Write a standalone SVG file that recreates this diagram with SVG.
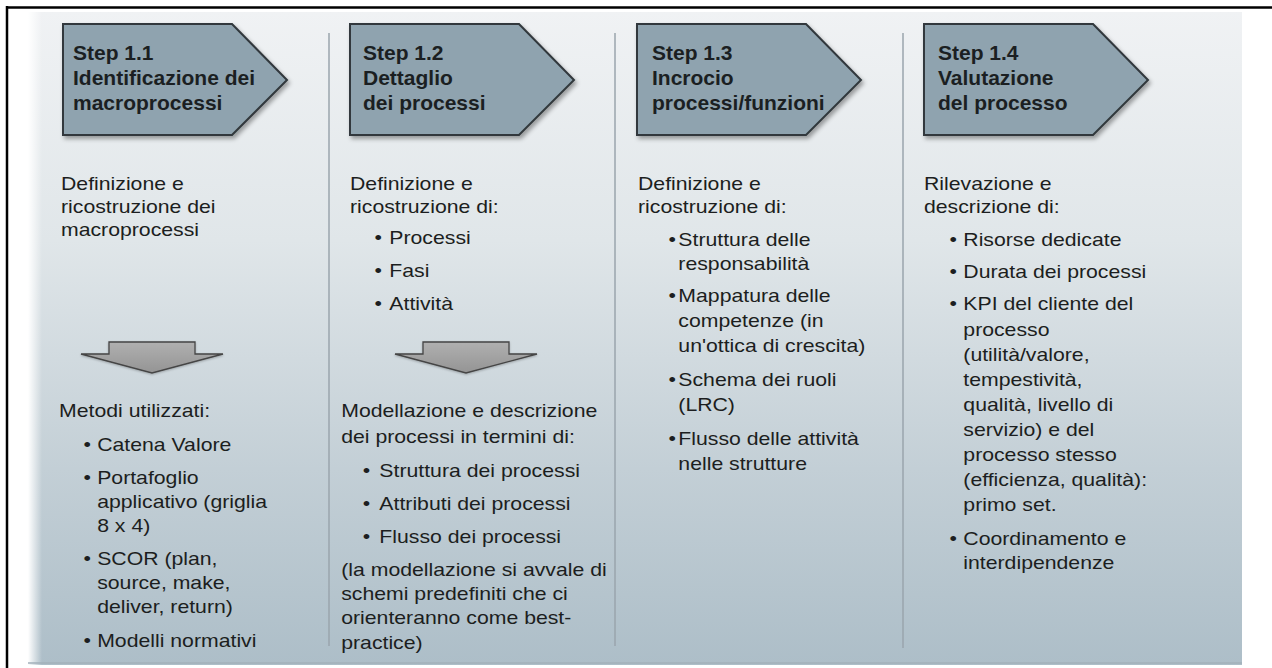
<svg xmlns="http://www.w3.org/2000/svg" width="1272" height="668" viewBox="0 0 1272 668">
<defs>
<linearGradient id="panel" x1="0" y1="0" x2="0" y2="1">
<stop offset="0" stop-color="#f0f2f4"/>
<stop offset="0.35" stop-color="#e0e6e9"/>
<stop offset="0.7" stop-color="#c3cfd6"/>
<stop offset="1" stop-color="#adbec8"/>
</linearGradient>
<linearGradient id="leftfade" x1="0" y1="0" x2="1" y2="0">
<stop offset="0" stop-color="#ffffff" stop-opacity="1"/>
<stop offset="1" stop-color="#ffffff" stop-opacity="0"/>
</linearGradient>
<linearGradient id="down" x1="0" y1="0" x2="0" y2="1">
<stop offset="0" stop-color="#b0b0b0"/>
<stop offset="1" stop-color="#949494"/>
</linearGradient>
<filter id="sh" x="-10%" y="-10%" width="130%" height="140%">
<feDropShadow dx="2" dy="3" stdDeviation="2" flood-color="#000" flood-opacity="0.35"/>
</filter>
<filter id="sh2" x="-10%" y="-20%" width="130%" height="160%">
<feDropShadow dx="0" dy="1" stdDeviation="1.2" flood-color="#000" flood-opacity="0.25"/>
</filter>
</defs>
<style>
.hdr{fill:#8fa3af;stroke:#30373c;stroke-width:2;stroke-linejoin:miter}
.ht{font-family:"Liberation Sans",Arial,sans-serif;font-weight:bold;font-size:21px;fill:#1b1f22}
.bt{font-family:"Liberation Sans",Arial,sans-serif;font-size:18.8px;fill:#1c1e20}
.sep{stroke:#9aa5ac;stroke-width:1.5}
.dn{fill:url(#down);stroke:#454545;stroke-width:1.3;stroke-linejoin:miter}
</style>
<rect x="0" y="0" width="1272" height="668" fill="#ffffff"/>
<g id="background">
<rect x="28" y="12" width="1214" height="653" fill="url(#panel)"/>
<rect x="28" y="12" width="14" height="653" fill="url(#leftfade)"/>
<line x1="28" y1="663" x2="1242" y2="663" stroke="#a3b1ba" stroke-width="1.5"/>
<line x1="6" y1="7.5" x2="1272" y2="7.5" stroke="#000" stroke-width="2.5"/>
<line x1="7" y1="6" x2="7" y2="668" stroke="#000" stroke-width="2.5"/>
<line class="sep" x1="329" y1="33" x2="329" y2="646"/>
<line class="sep" x1="615" y1="33" x2="615" y2="646"/>
<line class="sep" x1="903" y1="33" x2="903" y2="648"/>
</g>
<g id="step11">
<path class="hdr" filter="url(#sh)" d="M63,24 H232 L287,80 L232,135 H63 Z"/>
<text class="ht"><tspan x="73" y="60">Step 1.1</tspan><tspan x="73" y="85">Identificazione dei</tspan><tspan x="73" y="110">macroprocessi</tspan></text>
<g transform="translate(61,0) scale(1.13,1)">
<text class="bt"><tspan x="0" y="190">Definizione e</tspan><tspan x="0" y="213">ricostruzione dei</tspan><tspan x="0" y="236">macroprocessi</tspan></text>
<text class="bt"><tspan x="-1.7" y="417">Metodi utilizzati:</tspan>
<tspan x="20" y="451">•</tspan><tspan x="32" y="451">Catena Valore</tspan>
<tspan x="20" y="484">•</tspan><tspan x="32" y="484">Portafoglio</tspan>
<tspan x="32" y="508">applicativo (griglia</tspan>
<tspan x="32" y="532">8 x 4)</tspan>
<tspan x="20" y="565">•</tspan><tspan x="32" y="565">SCOR (plan,</tspan>
<tspan x="32" y="589">source, make,</tspan>
<tspan x="32" y="613">deliver, return)</tspan>
<tspan x="20" y="647">•</tspan><tspan x="32" y="647">Modelli normativi</tspan></text>
</g>
</g>
<g id="step12">
<path class="hdr" filter="url(#sh)" d="M350,24 H519 L574,80 L519,135 H350 Z"/>
<text class="ht"><tspan x="363" y="60">Step 1.2</tspan><tspan x="363" y="85">Dettaglio</tspan><tspan x="363" y="110">dei processi</tspan></text>
<g transform="translate(350,0) scale(1.13,1)">
<text class="bt"><tspan x="0" y="190">Definizione e</tspan><tspan x="0" y="213">ricostruzione di:</tspan>
<tspan x="21.7" y="244">•</tspan><tspan x="34.8" y="244">Processi</tspan>
<tspan x="21.7" y="277">•</tspan><tspan x="34.8" y="277">Fasi</tspan>
<tspan x="21.7" y="310">•</tspan><tspan x="34.8" y="310">Attività</tspan></text>
<text class="bt"><tspan x="-7.8" y="417">Modellazione e descrizione</tspan>
<tspan x="-7.8" y="443">dei processi in termini di:</tspan>
<tspan x="11.3" y="477">•</tspan><tspan x="26" y="477">Struttura dei processi</tspan>
<tspan x="11.3" y="510">•</tspan><tspan x="26" y="510">Attributi dei processi</tspan>
<tspan x="11.3" y="543">•</tspan><tspan x="26" y="543">Flusso dei processi</tspan>
<tspan x="-7.8" y="576">(la modellazione si avvale di</tspan>
<tspan x="-7.8" y="600">schemi predefiniti che ci</tspan>
<tspan x="-7.8" y="624">orienteranno come best-</tspan>
<tspan x="-7.8" y="649">practice)</tspan></text>
</g>
</g>
<g id="step13">
<path class="hdr" filter="url(#sh)" d="M637,24 H806 L861,80 L806,135 H637 Z"/>
<text class="ht"><tspan x="652" y="60">Step 1.3</tspan><tspan x="652" y="85">Incrocio</tspan><tspan x="652" y="110">processi/funzioni</tspan></text>
<g transform="translate(638,0) scale(1.13,1)">
<text class="bt"><tspan x="0" y="190">Definizione e</tspan><tspan x="0" y="213">ricostruzione di:</tspan>
<tspan x="27" y="246">•</tspan><tspan x="35.7" y="246">Struttura delle</tspan>
<tspan x="35.7" y="270">responsabilità</tspan>
<tspan x="27" y="302">•</tspan><tspan x="35.7" y="302">Mappatura delle</tspan>
<tspan x="35.7" y="327">competenze (in</tspan>
<tspan x="35.7" y="352">un'ottica di crescita)</tspan>
<tspan x="27" y="386">•</tspan><tspan x="35.7" y="386">Schema dei ruoli</tspan>
<tspan x="35.7" y="411">(LRC)</tspan>
<tspan x="27" y="445">•</tspan><tspan x="35.7" y="445">Flusso delle attività</tspan>
<tspan x="35.7" y="470">nelle strutture</tspan></text>
</g>
</g>
<g id="step14">
<path class="hdr" filter="url(#sh)" d="M924,24 H1093 L1148,80 L1093,135 H924 Z"/>
<text class="ht"><tspan x="938" y="60">Step 1.4</tspan><tspan x="938" y="85">Valutazione</tspan><tspan x="938" y="110">del processo</tspan></text>
<g transform="translate(924,0) scale(1.13,1)">
<text class="bt"><tspan x="0" y="190">Rilevazione e</tspan><tspan x="0" y="213">descrizione di:</tspan>
<tspan x="22.6" y="246">•</tspan><tspan x="34.8" y="246">Risorse dedicate</tspan>
<tspan x="22.6" y="278">•</tspan><tspan x="34.8" y="278">Durata dei processi</tspan>
<tspan x="22.6" y="310">•</tspan><tspan x="34.8" y="310">KPI del cliente del</tspan>
<tspan x="34.8" y="336">processo</tspan>
<tspan x="34.8" y="361">(utilità/valore,</tspan>
<tspan x="34.8" y="386">tempestività,</tspan>
<tspan x="34.8" y="411">qualità, livello di</tspan>
<tspan x="34.8" y="436">servizio) e del</tspan>
<tspan x="34.8" y="461">processo stesso</tspan>
<tspan x="34.8" y="486">(efficienza, qualità):</tspan>
<tspan x="34.8" y="511">primo set.</tspan>
<tspan x="22.6" y="545">•</tspan><tspan x="34.8" y="545">Coordinamento e</tspan>
<tspan x="34.8" y="569">interdipendenze</tspan></text>
</g>
</g>
<g id="connectors">
<path class="dn" filter="url(#sh2)" d="M109,342 H195 V354 H223 L152,373 L81,354 H109 Z"/>
<path class="dn" filter="url(#sh2)" d="M423,342 H509 V354 H537 L466,373 L395,354 H423 Z"/>
</g>
</svg>
